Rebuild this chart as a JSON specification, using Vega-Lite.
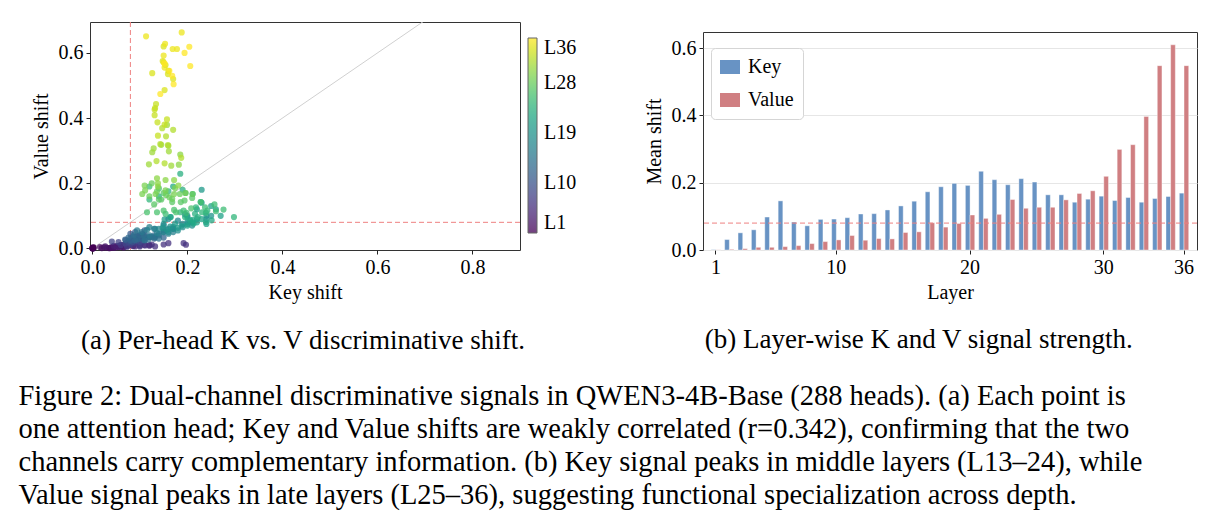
{
  "$schema": "https://vega.github.io/schema/vega-lite/v6.json",
  "background": "white",
  "padding": {"left": 18, "top": 21, "right": 5, "bottom": 5},
  "config": {
    "font": "Liberation Serif",
    "view": {"stroke": "#333", "strokeWidth": 1},
    "axis": {"labelFont": "Liberation Serif", "titleFont": "Liberation Serif", "labelFontSize": 20, "titleFontSize": 20, "titleFontWeight": "normal", "labelColor": "#000", "titleColor": "#000", "tickColor": "#222", "domain": false, "grid": false, "tickSize": 4, "labelPadding": 3},
    "title": {"font": "Liberation Serif", "fontWeight": "normal", "color": "#000"},
    "legend": {"labelFont": "Liberation Serif", "labelFontSize": 20, "labelColor": "#000"}
  },
  "datasets": {
    "heads": [
      {"l":1,"k":0.002,"v":0.004},{"l":1,"k":0,"v":0},{"l":1,"k":0.001,"v":0},{"l":1,"k":0,"v":0.001},{"l":1,"k":0.002,"v":0},{"l":1,"k":0.001,"v":0.001},{"l":1,"k":0,"v":0},{"l":1,"k":0.003,"v":0.001},
      {"l":2,"k":0.016,"v":0.004},{"l":2,"k":0.02,"v":0.001},{"l":2,"k":0.03,"v":0.002},{"l":2,"k":0.04,"v":0.002},{"l":2,"k":0.035,"v":0.001},{"l":2,"k":0.025,"v":0.003},{"l":2,"k":0.045,"v":0.002},{"l":2,"k":0.037,"v":0.001},
      {"l":3,"k":0.027,"v":0.006},{"l":3,"k":0.04,"v":0.004},{"l":3,"k":0.05,"v":0.003},{"l":3,"k":0.06,"v":0.005},{"l":3,"k":0.045,"v":0.003},{"l":3,"k":0.055,"v":0.004},{"l":3,"k":0.065,"v":0.004},{"l":3,"k":0.066,"v":0.003},
      {"l":4,"k":0.058,"v":0.004},{"l":4,"k":0.045,"v":0.008},{"l":4,"k":0.06,"v":0.01},{"l":4,"k":0.07,"v":0.008},{"l":4,"k":0.05,"v":0.006},{"l":4,"k":0.065,"v":0.01},{"l":4,"k":0.055,"v":0.008},{"l":4,"k":0.077,"v":0.01},
      {"l":5,"k":0.087,"v":0.008},{"l":5,"k":0.073,"v":0.006},{"l":5,"k":0.11,"v":0.01},{"l":5,"k":0.12,"v":0.008},{"l":5,"k":0.09,"v":0.006},{"l":5,"k":0.1,"v":0.009},{"l":5,"k":0.085,"v":0.007},{"l":5,"k":0.12,"v":0.01},
      {"l":6,"k":0.192,"v":0.016},{"l":6,"k":0.197,"v":0.011},{"l":6,"k":0.15,"v":0.012},{"l":6,"k":0.16,"v":0.016},{"l":6,"k":0.125,"v":0.012},{"l":6,"k":0.132,"v":0.006},{"l":6,"k":0.111,"v":0.009},{"l":6,"k":0.1,"v":0.006},
      {"l":7,"k":0.06,"v":0.01},{"l":7,"k":0.07,"v":0.015},{"l":7,"k":0.08,"v":0.012},{"l":7,"k":0.09,"v":0.018},{"l":7,"k":0.1,"v":0.01},{"l":7,"k":0.073,"v":0.006},{"l":7,"k":0.087,"v":0.015},{"l":7,"k":0.104,"v":0.018},
      {"l":8,"k":0.041,"v":0.021},{"l":8,"k":0.055,"v":0.019},{"l":8,"k":0.07,"v":0.015},{"l":8,"k":0.08,"v":0.02},{"l":8,"k":0.09,"v":0.025},{"l":8,"k":0.075,"v":0.018},{"l":8,"k":0.085,"v":0.02},{"l":8,"k":0.08,"v":0.014},
      {"l":9,"k":0.075,"v":0.02},{"l":9,"k":0.085,"v":0.025},{"l":9,"k":0.095,"v":0.03},{"l":9,"k":0.1,"v":0.02},{"l":9,"k":0.11,"v":0.035},{"l":9,"k":0.08,"v":0.02},{"l":9,"k":0.09,"v":0.025},{"l":9,"k":0.093,"v":0.025},
      {"l":10,"k":0.07,"v":0.025},{"l":10,"k":0.08,"v":0.03},{"l":10,"k":0.09,"v":0.035},{"l":10,"k":0.1,"v":0.03},{"l":10,"k":0.11,"v":0.04},{"l":10,"k":0.085,"v":0.02},{"l":10,"k":0.095,"v":0.03},{"l":10,"k":0.106,"v":0.03},
      {"l":11,"k":0.08,"v":0.045},{"l":11,"k":0.09,"v":0.05},{"l":11,"k":0.1,"v":0.04},{"l":11,"k":0.11,"v":0.055},{"l":11,"k":0.085,"v":0.035},{"l":11,"k":0.105,"v":0.045},{"l":11,"k":0.095,"v":0.038},{"l":11,"k":0.1,"v":0.036},
      {"l":12,"k":0.069,"v":0.027},{"l":12,"k":0.08,"v":0.024},{"l":12,"k":0.1,"v":0.03},{"l":12,"k":0.12,"v":0.035},{"l":12,"k":0.11,"v":0.025},{"l":12,"k":0.13,"v":0.03},{"l":12,"k":0.095,"v":0.028},{"l":12,"k":0.15,"v":0.033},
      {"l":13,"k":0.076,"v":0.033},{"l":13,"k":0.094,"v":0.03},{"l":13,"k":0.1,"v":0.04},{"l":13,"k":0.12,"v":0.035},{"l":13,"k":0.11,"v":0.03},{"l":13,"k":0.13,"v":0.04},{"l":13,"k":0.09,"v":0.025},{"l":13,"k":0.14,"v":0.04},
      {"l":14,"k":0.125,"v":0.035},{"l":14,"k":0.087,"v":0.04},{"l":14,"k":0.108,"v":0.04},{"l":14,"k":0.118,"v":0.027},{"l":14,"k":0.132,"v":0.033},{"l":14,"k":0.14,"v":0.03},{"l":14,"k":0.11,"v":0.025},{"l":14,"k":0.13,"v":0.035},
      {"l":15,"k":0.094,"v":0.055},{"l":15,"k":0.104,"v":0.05},{"l":15,"k":0.13,"v":0.06},{"l":15,"k":0.14,"v":0.045},{"l":15,"k":0.15,"v":0.055},{"l":15,"k":0.12,"v":0.04},{"l":15,"k":0.16,"v":0.06},{"l":15,"k":0.15,"v":0.05},
      {"l":16,"k":0.132,"v":0.06},{"l":16,"k":0.136,"v":0.047},{"l":16,"k":0.115,"v":0.057},{"l":16,"k":0.15,"v":0.05},{"l":16,"k":0.17,"v":0.06},{"l":16,"k":0.16,"v":0.045},{"l":16,"k":0.12,"v":0.065},{"l":16,"k":0.17,"v":0.05},
      {"l":17,"k":0.15,"v":0.07},{"l":17,"k":0.16,"v":0.09},{"l":17,"k":0.18,"v":0.085},{"l":17,"k":0.19,"v":0.075},{"l":17,"k":0.14,"v":0.06},{"l":17,"k":0.2,"v":0.1},{"l":17,"k":0.17,"v":0.065},{"l":17,"k":0.195,"v":0.105},
      {"l":18,"k":0.16,"v":0.05},{"l":18,"k":0.17,"v":0.06},{"l":18,"k":0.19,"v":0.065},{"l":18,"k":0.2,"v":0.08},{"l":18,"k":0.21,"v":0.07},{"l":18,"k":0.18,"v":0.055},{"l":18,"k":0.24,"v":0.09},{"l":18,"k":0.15,"v":0.075},
      {"l":19,"k":0.164,"v":0.067},{"l":19,"k":0.157,"v":0.057},{"l":19,"k":0.148,"v":0.063},{"l":19,"k":0.21,"v":0.08},{"l":19,"k":0.22,"v":0.09},{"l":19,"k":0.25,"v":0.1},{"l":19,"k":0.2,"v":0.075},{"l":19,"k":0.24,"v":0.1},
      {"l":20,"k":0.152,"v":0.089},{"l":20,"k":0.164,"v":0.096},{"l":20,"k":0.174,"v":0.076},{"l":20,"k":0.18,"v":0.063},{"l":20,"k":0.188,"v":0.07},{"l":20,"k":0.22,"v":0.12},{"l":20,"k":0.23,"v":0.14},{"l":20,"k":0.23,"v":0.18},
      {"l":21,"k":0.26,"v":0.12},{"l":21,"k":0.25,"v":0.13},{"l":21,"k":0.27,"v":0.1},{"l":21,"k":0.23,"v":0.09},{"l":21,"k":0.22,"v":0.08},{"l":21,"k":0.24,"v":0.075},{"l":21,"k":0.2,"v":0.07},{"l":21,"k":0.2,"v":0.095},
      {"l":22,"k":0.206,"v":0.086},{"l":22,"k":0.213,"v":0.076},{"l":22,"k":0.211,"v":0.088},{"l":22,"k":0.239,"v":0.081},{"l":22,"k":0.251,"v":0.086},{"l":22,"k":0.165,"v":0.096},{"l":22,"k":0.228,"v":0.142},{"l":22,"k":0.17,"v":0.19},
      {"l":23,"k":0.185,"v":0.229},{"l":23,"k":0.211,"v":0.167},{"l":23,"k":0.196,"v":0.17},{"l":23,"k":0.216,"v":0.106},{"l":23,"k":0.222,"v":0.096},{"l":23,"k":0.195,"v":0.096},{"l":23,"k":0.14,"v":0.16},{"l":23,"k":0.19,"v":0.18},
      {"l":24,"k":0.239,"v":0.109},{"l":24,"k":0.242,"v":0.116},{"l":24,"k":0.298,"v":0.096},{"l":24,"k":0.218,"v":0.126},{"l":24,"k":0.231,"v":0.111},{"l":24,"k":0.185,"v":0.111},{"l":24,"k":0.16,"v":0.175},{"l":24,"k":0.12,"v":0.15},
      {"l":25,"k":0.237,"v":0.126},{"l":25,"k":0.257,"v":0.135},{"l":25,"k":0.26,"v":0.114},{"l":25,"k":0.276,"v":0.119},{"l":25,"k":0.154,"v":0.106},{"l":25,"k":0.192,"v":0.116},{"l":25,"k":0.198,"v":0.109},{"l":25,"k":0.12,"v":0.19},
      {"l":26,"k":0.115,"v":0.111},{"l":26,"k":0.136,"v":0.111},{"l":26,"k":0.15,"v":0.116},{"l":26,"k":0.172,"v":0.118},{"l":26,"k":0.176,"v":0.111},{"l":26,"k":0.208,"v":0.123},{"l":26,"k":0.228,"v":0.142},{"l":26,"k":0.14,"v":0.184},
      {"l":27,"k":0.168,"v":0.142},{"l":27,"k":0.186,"v":0.142},{"l":27,"k":0.194,"v":0.147},{"l":27,"k":0.21,"v":0.155},{"l":27,"k":0.15,"v":0.17},{"l":27,"k":0.14,"v":0.15},{"l":27,"k":0.13,"v":0.135},{"l":27,"k":0.145,"v":0.15},
      {"l":28,"k":0.12,"v":0.16},{"l":28,"k":0.155,"v":0.164},{"l":28,"k":0.162,"v":0.157},{"l":28,"k":0.168,"v":0.152},{"l":28,"k":0.184,"v":0.167},{"l":28,"k":0.211,"v":0.167},{"l":28,"k":0.136,"v":0.175},{"l":28,"k":0.125,"v":0.2},
      {"l":29,"k":0.11,"v":0.193},{"l":29,"k":0.174,"v":0.185},{"l":29,"k":0.111,"v":0.178},{"l":29,"k":0.154,"v":0.178},{"l":29,"k":0.105,"v":0.167},{"l":29,"k":0.133,"v":0.167},{"l":29,"k":0.172,"v":0.167},{"l":29,"k":0.196,"v":0.17},
      {"l":30,"k":0.182,"v":0.257},{"l":30,"k":0.185,"v":0.288},{"l":30,"k":0.136,"v":0.215},{"l":30,"k":0.154,"v":0.21},{"l":30,"k":0.172,"v":0.21},{"l":30,"k":0.138,"v":0.2},{"l":30,"k":0.181,"v":0.193},{"l":30,"k":0.138,"v":0.19},
      {"l":31,"k":0.157,"v":0.379},{"l":31,"k":0.145,"v":0.318},{"l":31,"k":0.129,"v":0.307},{"l":31,"k":0.16,"v":0.315},{"l":31,"k":0.126,"v":0.295},{"l":31,"k":0.161,"v":0.298},{"l":31,"k":0.119,"v":0.258},{"l":31,"k":0.166,"v":0.254},
      {"l":32,"k":0.152,"v":0.261},{"l":32,"k":0.147,"v":0.369},{"l":32,"k":0.17,"v":0.364},{"l":32,"k":0.155,"v":0.344},{"l":32,"k":0.143,"v":0.32},{"l":32,"k":0.159,"v":0.317},{"l":32,"k":0.187,"v":0.278},{"l":32,"k":0.135,"v":0.268},
      {"l":33,"k":0.134,"v":0.443},{"l":33,"k":0.132,"v":0.431},{"l":33,"k":0.131,"v":0.426},{"l":33,"k":0.131,"v":0.409},{"l":33,"k":0.137,"v":0.387},{"l":33,"k":0.157,"v":0.396},{"l":33,"k":0.152,"v":0.38},{"l":33,"k":0.138,"v":0.346},
      {"l":34,"k":0.154,"v":0.563},{"l":34,"k":0.126,"v":0.538},{"l":34,"k":0.159,"v":0.535},{"l":34,"k":0.152,"v":0.486},{"l":34,"k":0.15,"v":0.62},{"l":34,"k":0.16,"v":0.545},{"l":34,"k":0.148,"v":0.575},{"l":34,"k":0.17,"v":0.52},
      {"l":35,"k":0.188,"v":0.663},{"l":35,"k":0.153,"v":0.628},{"l":35,"k":0.169,"v":0.612},{"l":35,"k":0.178,"v":0.612},{"l":35,"k":0.15,"v":0.592},{"l":35,"k":0.113,"v":0.651},{"l":35,"k":0.15,"v":0.571},{"l":35,"k":0.152,"v":0.555},
      {"l":36,"k":0.204,"v":0.619},{"l":36,"k":0.194,"v":0.6},{"l":36,"k":0.206,"v":0.56},{"l":36,"k":0.162,"v":0.545},{"l":36,"k":0.168,"v":0.53},{"l":36,"k":0.152,"v":0.567},{"l":36,"k":0.171,"v":0.504},{"l":36,"k":0.143,"v":0.474}
    ],
    "layers": [
      {"layer":1,"Key":0.001,"Value":0.0005},{"layer":2,"Key":0.031,"Value":0.002},{"layer":3,"Key":0.051,"Value":0.004},{"layer":4,"Key":0.06,"Value":0.008},
      {"layer":5,"Key":0.098,"Value":0.008},{"layer":6,"Key":0.146,"Value":0.01},{"layer":7,"Key":0.083,"Value":0.013},{"layer":8,"Key":0.072,"Value":0.019},
      {"layer":9,"Key":0.091,"Value":0.025},{"layer":10,"Key":0.092,"Value":0.03},{"layer":11,"Key":0.096,"Value":0.043},{"layer":12,"Key":0.107,"Value":0.029},
      {"layer":13,"Key":0.108,"Value":0.034},{"layer":14,"Key":0.119,"Value":0.033},{"layer":15,"Key":0.131,"Value":0.052},{"layer":16,"Key":0.145,"Value":0.054},
      {"layer":17,"Key":0.173,"Value":0.081},{"layer":18,"Key":0.188,"Value":0.068},{"layer":19,"Key":0.198,"Value":0.079},{"layer":20,"Key":0.192,"Value":0.104},
      {"layer":21,"Key":0.234,"Value":0.094},{"layer":22,"Key":0.209,"Value":0.106},{"layer":23,"Key":0.194,"Value":0.15},{"layer":24,"Key":0.212,"Value":0.124},
      {"layer":25,"Key":0.202,"Value":0.127},{"layer":26,"Key":0.164,"Value":0.127},{"layer":27,"Key":0.164,"Value":0.149},{"layer":28,"Key":0.142,"Value":0.168},
      {"layer":29,"Key":0.151,"Value":0.176},{"layer":30,"Key":0.16,"Value":0.219},{"layer":31,"Key":0.147,"Value":0.299},{"layer":32,"Key":0.156,"Value":0.313},
      {"layer":33,"Key":0.142,"Value":0.397},{"layer":34,"Key":0.153,"Value":0.548},{"layer":35,"Key":0.159,"Value":0.61},{"layer":36,"Key":0.169,"Value":0.548}
    ]
  },
  "title": {
    "text": [
      "Figure 2: Dual-channel discriminative signals in QWEN3-4B-Base (288 heads). (a) Each point is",
      "one attention head; Key and Value shifts are weakly correlated (r=0.342), confirming that the two",
      "channels carry complementary information. (b) Key signal peaks in middle layers (L13–24), while",
      "Value signal peaks in late layers (L25–36), suggesting functional specialization across depth."
    ],
    "orient": "bottom",
    "anchor": "start",
    "fontSize": 28.5,
    "lineHeight": 33,
    "offset": 27,
    "dx": -12
  },
  "spacing": 65,
  "hconcat": [
    {
      "width": 430,
      "height": 228,
      "title": {"text": "(a) Per-head K vs. V discriminative shift.", "orient": "bottom", "fontSize": 27, "offset": 26, "dx": -2},
      "layer": [
        {
          "data": {"values": [{"x0": 0, "y0": 0, "x1": 0.9, "y1": 0.9}]},
          "mark": {"type": "rule", "color": "#d0d0d0", "strokeWidth": 1, "clip": true},
          "encoding": {
            "x": {"field": "x0", "type": "quantitative", "scale": {"domain": [-0.005, 0.9], "nice": false, "zero": false},
                  "axis": {"values": [0, 0.2, 0.4, 0.6, 0.8], "format": ".1f", "title": "Key shift", "titlePadding": 5}},
            "y": {"field": "y0", "type": "quantitative", "scale": {"domain": [-0.005, 0.695], "nice": false, "zero": false},
                  "axis": {"values": [0, 0.2, 0.4, 0.6], "format": ".1f", "title": "Value shift", "titlePadding": 7}},
            "x2": {"field": "x1"},
            "y2": {"field": "y1"}
          }
        },
        {
          "data": {"values": [{"t": 0.08}]},
          "mark": {"type": "rule", "color": "#ee8080", "strokeWidth": 1, "strokeDash": [5, 3]},
          "encoding": {"x": {"field": "t", "type": "quantitative", "scale": {"domain": [-0.005, 0.9], "nice": false, "zero": false}}}
        },
        {
          "data": {"values": [{"t": 0.08}]},
          "mark": {"type": "rule", "color": "#ee8080", "strokeWidth": 1, "strokeDash": [5, 3]},
          "encoding": {"y": {"field": "t", "type": "quantitative", "scale": {"domain": [-0.005, 0.695], "nice": false, "zero": false}}}
        },
        {
          "data": {"name": "heads"},
          "mark": {"type": "circle", "size": 38, "opacity": 0.75},
          "encoding": {
            "x": {"field": "k", "type": "quantitative", "scale": {"domain": [-0.005, 0.9], "nice": false, "zero": false}},
            "y": {"field": "v", "type": "quantitative", "scale": {"domain": [-0.005, 0.695], "nice": false, "zero": false}},
            "color": {
              "field": "l", "type": "quantitative",
              "scale": {"scheme": "viridis", "domain": [1, 36]},
              "legend": {
                "title": null, "orient": "none", "legendX": 438, "legendY": 16,
                "gradientLength": 195, "gradientThickness": 9,
                "gradientStrokeColor": "#333", "gradientStrokeWidth": 1,
                "values": [1, 10, 19, 28, 36], "labelExpr": "'L' + datum.value",
                "labelOffset": 7, "labelFontSize": 20, "padding": 0
              }
            }
          }
        }
      ]
    },
    {
      "title": {"text": "(b) Layer-wise K and V signal strength.", "orient": "bottom", "fontSize": 27, "offset": 24, "anchor": "middle", "dx": -2},
      "spacing": 0,
      "vconcat": [
        {
          "width": 494,
          "height": 9,
          "view": {"stroke": null},
          "data": {"values": [{"a": 1}]},
          "mark": {"type": "point", "opacity": 0},
          "encoding": {}
        },
        {
          "width": 494,
          "height": 218,
          "layer": [
            {
              "data": {"name": "layers"},
              "transform": [{"fold": ["Key", "Value"], "as": ["series", "shift"]}],
              "mark": {"type": "bar", "stroke": "white", "strokeWidth": 0.4},
              "encoding": {
                "x": {"field": "layer", "type": "ordinal", "scale": {"paddingInner": 0.3, "paddingOuter": 0.62},
                      "axis": {"values": [1, 10, 20, 30, 36], "labelAngle": 0, "title": "Layer", "titlePadding": 5}},
                "xOffset": {"field": "series", "type": "nominal", "scale": {"domain": ["Key", "Value"], "paddingInner": 0, "paddingOuter": 0}},
                "y": {"field": "shift", "type": "quantitative", "scale": {"domain": [0, 0.648], "nice": false},
                      "axis": {"values": [0, 0.2, 0.4, 0.6], "format": ".1f", "title": "Mean shift", "titlePadding": 7, "grid": true, "gridColor": "#e6e6e6", "gridWidth": 1}},
                "color": {
                  "field": "series", "type": "nominal",
                  "scale": {"domain": ["Key", "Value"], "range": ["#6893c4", "#d07f82"]},
                  "legend": {
                    "title": null, "orient": "none", "legendX": 8, "legendY": 26,
                    "symbolType": "M-1,-0.7L1,-0.7L1,0.7L-1,0.7Z", "symbolSize": 400, "symbolStrokeWidth": 0, "symbolOpacity": 1,
                    "labelFontSize": 20, "labelOffset": 8, "rowPadding": 13,
                    "fillColor": "white", "strokeColor": "#d5d5d5", "cornerRadius": 4, "padding": 9
                  }
                }
              }
            },
            {
              "data": {"values": [{"t": 0.08}]},
              "mark": {"type": "rule", "color": "#ee8080", "strokeWidth": 1, "strokeDash": [5, 3]},
              "encoding": {"y": {"field": "t", "type": "quantitative", "scale": {"domain": [0, 0.648], "nice": false}}}
            }
          ]
        }
      ]
    }
  ]
}
